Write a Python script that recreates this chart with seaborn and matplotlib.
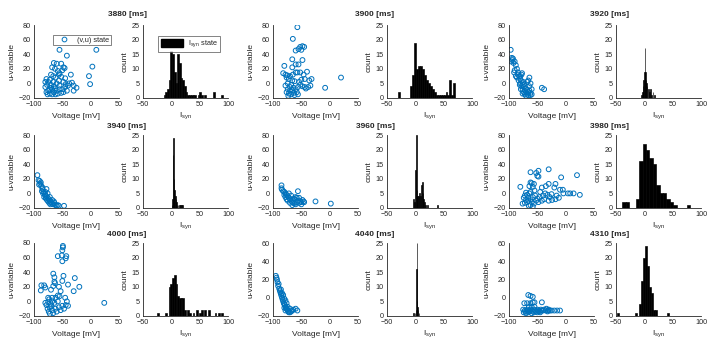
import numpy as np
import pandas as pd
import seaborn as sns
import matplotlib
import matplotlib.pyplot as plt
from matplotlib.patches import Patch
from matplotlib.lines import Line2D

# ---- data: one (v,u) scatter and one I_syn histogram per time point ----
times = [3880, 3900, 3920, 3940, 3960, 3980, 4000, 4040, 4310]

v_3880 = [-55, 10, 3, -42, -48, -46, -65, -60, -52, -63, -58, -50, -55, -35, -70, -66, -52, -62, -45, -3,
          -1, -38, -33, -30, -25, -30, -40, -45, -60, -75, -78, -72, -80, -70, -65, -55, -50, -68, -75, -78,
          -72, -65, -60, -58, -52, -70, -80, -76, -68, -62, -55, -48, -42, -66, -56, -48, -44, -63, -73, -77,
          -68, -56]
u_3880 = [46, 46, 23, 38, 22, 21, 28, 27, 27, 20, 17, 18, 14, 12, 12, 10, 9, 8, 7, 10,
          -1, 0, 1, -3, -6, -10, -3, -5, 0, 2, 6, 5, 2, -2, -4, -3, -8, -8, -10, -12,
          -14, -12, -10, -14, -13, -6, -5, -15, -15, -15, -8, -12, -10, 2, 4, 2, -1, -7, -9, -2,
          22, 12]

v_3900 = [-57, -65, -60, -55, -52, -48, -45, -50, -66, -48, -60, -55, -66, -80, -52, -60, -57, -40, -46, -65,
          -70, -75, -82, -78, 20, -32, -36, -44, -50, -54, -62, -72, -76, -8, -34, -38, -42, -48, -52, -56,
          -60, -64, -68, -70, -74, -76, -72, -68, -64, -58, -62, -70, -66, -73, -56, -44, -78, -74, -66]
u_3900 = [77, 61, 45, 47, 50, 51, 50, 46, 33, 32, 26, 26, 22, 24, 15, 15, 15, 16, 12, 12,
          10, 11, 14, 12, 8, 6, 4, 6, 5, 2, 3, 6, 8, -6, -3, -5, -7, -4, -2, -5,
          -8, -6, -2, -5, -8, -12, -14, -15, -13, -12, -16, -10, -9, -17, -15, -5, -3, 0, 4]

v_3920 = [-97, -95, -93, -96, -92, -88, -86, -90, -91, -84, -82, -86, -80, -83, -78, -80, -76, -78, -74, -76,
          -72, -74, -70, -72, -68, -66, -64, -62, -60, -62, -66, -64, -68, -62, -64, -60, -42, -38, -80, -78,
          -77, -81, -75, -73, -70, -68, -79, -76, -70, -66, -84, -88, -90, -94]
u_3920 = [46, 35, 34, 30, 28, 25, 20, 18, 15, 12, 10, 8, 6, 4, 3, 0, -2, -4, -5, -8,
          -10, -12, -12, -15, -14, -12, -10, -13, -15, -16, 4, 8, 2, 0, -4, -8, -6, -8, 10, 12,
          14, -2, 2, -1, -7, -9, -8, -14, -17, -16, 15, 10, 30, 32]

v_3940 = [-94, -92, -90, -88, -91, -87, -85, -86, -83, -84, -81, -80, -82, -78, -79, -76, -77, -74, -75, -72,
          -73, -70, -71, -68, -66, -64, -62, -60, -58, -56, -47, -78, -80, -76, -72, -68, -65, -89, -85]
u_3940 = [25, 18, 17, 15, 12, 10, 6, 3, 2, 0, -1, -3, -5, -4, -7, -6, -9, -8, -11, -10,
          -13, -12, -15, -14, -15, -13, -16, -17, -16, -17, -17, 6, 2, 0, -5, -9, -11, 13, 8]

v_3960 = [-85, -85, -84, -82, -80, -78, -76, -74, -72, -70, -68, -66, -64, -62, -60, -58, -56, -54, -52, -50,
          -48, -46, -45, -56, -60, -64, -68, -72, -76, -78, -70, -66, -62, -58, -25, 2, -80, -74, -54, -50]
u_3960 = [11, 7, 5, 3, 2, 0, -2, -4, -6, -8, -10, -12, -13, -14, -15, -12, -10, -13, -11, -12,
          -9, -11, -12, 3, -5, -7, -3, 0, -8, -5, -13, -16, -8, -6, -11, -14, -2, -10, -6, -15]

v_3980 = [-62, -48, -30, -52, -50, -48, 20, -8, -18, -30, -62, -60, -56, -64, -58, -80, -42, -20, -10, -5,
          -16, -62, -64, -68, -70, -72, -74, -70, -66, -62, -58, -54, -50, -46, -40, -36, -32, -28, -24, -18,
          -12, -4, 4, 8, 14, 25, -42, -48, -56, -62, -68, -72, -76, -66, -60, -52, -38, -30, -55, -45,
          -35, -25, -65, -58]
u_3980 = [29, 31, 33, 28, 24, 23, 25, 22, 13, 13, 15, 14, 13, 10, 9, 9, 8, 8, 5, 5,
          -3, 2, 0, -2, 1, -3, -6, -9, -10, -8, -5, -3, -7, -5, -3, 0, -2, -5, -9, -8,
          -6, 0, 0, 0, 0, -2, -10, -12, -14, -16, -12, -13, -14, -6, -12, -10, -8, -10, 4, 2,
          10, -1, -17, -18]

v_4000 = [-49, -49, -50, -51, -58, -43, -44, -50, -66, -64, -48, -64, -63, -28, -87, -82, -80, -88, -70, -66,
          -56, -50, -40, -20, -30, -53, -75, -73, -68, -55, -45, -42, -58, -64, -70, -72, -76, -74, -68, -62,
          -56, -50, -44, -60, -66, -72, -78, -80, -68, 24, -47, -53, -40, -75, -58, -62, -70]
u_4000 = [76, 74, 70, 63, 62, 62, 59, 55, 38, 33, 35, 27, 25, 32, 22, 22, 19, 15, 16, 21,
          20, 28, 23, 20, 14, 14, 5, 3, 5, 7, 5, 0, 0, -2, -4, -8, -10, -14, -12, -10,
          -8, -6, -5, -14, -16, -17, -5, -2, 0, -2, -10, -12, -6, -1, 8, 5, -7]

v_4040 = [-95, -94, -93, -92, -90, -91, -89, -88, -87, -86, -85, -84, -83, -82, -81, -80, -79, -78, -77, -76,
          -75, -74, -73, -72, -70, -68, -70, -74, -76, -78, -80, -82, -84, -60, -57, -66, -64, -78, -80, -86]
u_4040 = [24, 22, 20, 17, 15, 13, 10, 8, 6, 4, 2, 0, -2, -4, -6, -7, -8, -10, -11, -12,
          -13, -14, -15, -16, -16, -15, -12, -10, -6, -3, -1, 3, 5, -12, -14, -14, -13, -14, -11, 9]

v_4310 = [-66, -62, -58, -73, -68, -62, -58, -55, -42, -65, -60, -55, -75, -72, -70, -68, -66, -64, -62, -60,
          -58, -56, -54, -52, -50, -48, -46, -44, -42, -40, -38, -35, -32, -30, -28, -25, -20, -15, -10, -74,
          -70, -66, -60, -56, -50, -45, -34, -31]
u_4310 = [3, 2, 1, -6, -6, -6, -5, -5, -5, -10, -10, -10, -13, -14, -15, -13, -14, -15, -13, -14,
          -15, -13, -14, -15, -13, -14, -15, -13, -14, -14, -13, -14, -15, -13, -14, -14, -14, -14, -14, -16,
          -17, -16, -17, -16, -16, -16, -12, -14]

# histogram bins: centres, counts and bin width
c_3880 = [-12, -9, -6, -3, 0, 3, 6, 9, 12, 15, 18, 21, 24, 27, 30, 33, 36, 39, 42, 48, 51, 54, 60, 75, 90]
n_3880 = [1, 2, 3, 6, 16, 15, 9, 5, 15, 12, 7, 6, 4, 2, 1, 1, 1, 1, 1, 1, 2, 1, 1, 2, 1]
c_3900 = [-29, -8, -4.5, -1, 2.5, 6, 9.5, 13, 16.5, 20, 23.5, 27, 30.5, 34, 37.5, 41, 44.5, 48, 51.5, 55, 58.5, 62, 65.5, 69]
n_3900 = [2, 4, 8, 19, 10, 11, 11, 10, 8, 6, 5, 4, 3, 2, 1, 1, 1, 1, 1, 2, 1, 6, 1, 5]
c_3920 = [-5, -3, -2, -1, 0, 1, 2, 3, 4, 5, 7, 9, 11, 13, 15, 18]
n_3920 = [1, 2, 4, 6, 9, 17, 9, 6, 5, 4, 3, 2, 3, 1, 2, 1]
c_3940 = [1, 2, 3, 4, 5, 6, 7, 8, 9, 10, 12, 14, 16, 18, 20]
n_3940 = [1, 3, 18, 24, 10, 6, 4, 3, 2, 1, 1, 1, 1, 1, 1]
c_3960 = [-3, -1.5, 0, 1.5, 3, 4.5, 6, 7.5, 9, 10.5, 12, 13.5, 15, 16.5, 18, 21, 39]
n_3960 = [3, 2, 13, 25, 6, 4, 4, 5, 4, 8, 9, 5, 3, 2, 1, 1, 1]
c_3980 = [-36, -30, -12, -6, 0, 6, 12, 18, 24, 30, 36, 42, 48, 54, 78]
n_3980 = [2, 2, 3, 16, 22, 20, 17, 15, 8, 5, 5, 3, 2, 1, 1]
c_4000 = [-24, -9, -3, 0, 3, 6, 9, 12, 15, 18, 21, 24, 30, 33, 39, 45, 51, 54, 60, 66, 78, 84, 90]
n_4000 = [1, 1, 10, 11, 13, 14, 11, 7, 6, 6, 6, 2, 2, 1, 1, 2, 1, 2, 2, 2, 1, 1, 1]
c_4040 = [-3, -1, 1, 2, 2.5, 3, 4, 5, 6]
n_4040 = [1, 1, 2, 16, 25, 5, 3, 2, 1]
c_4310 = [-47, -16, -8, -4.5, -1, 2.5, 6, 9.5, 13, 16.5, 20, 42]
n_4310 = [1, 1, 4, 12, 20, 24, 17, 10, 8, 2, 2, 1]

bin_w = [3, 3.5, 1, 1, 1.5, 6, 3, 0.5, 3.5]

scatters = [(v_3880, u_3880), (v_3900, u_3900), (v_3920, u_3920),
            (v_3940, u_3940), (v_3960, u_3960), (v_3980, u_3980),
            (v_4000, u_4000), (v_4040, u_4040), (v_4310, u_4310)]
hists = [(c_3880, n_3880), (c_3900, n_3900), (c_3920, n_3920),
         (c_3940, n_3940), (c_3960, n_3960), (c_3980, n_3980),
         (c_4000, n_4000), (c_4040, n_4040), (c_4310, n_4310)]
u_top = [80, 80, 80, 80, 80, 80, 80, 60, 60]


def main():
    sns.set_style('white')
    matplotlib.rcParams['font.family'] = ['Liberation Sans', 'DejaVu Sans']
    matplotlib.rcParams['font.size'] = 6
    matplotlib.rcParams['mathtext.fontset'] = 'custom'
    matplotlib.rcParams['mathtext.rm'] = 'Liberation Sans'
    matplotlib.rcParams['axes.edgecolor'] = '#262626'
    matplotlib.rcParams['axes.linewidth'] = 0.6
    matplotlib.rcParams['xtick.color'] = '#262626'
    matplotlib.rcParams['ytick.color'] = '#262626'
    matplotlib.rcParams['axes.labelcolor'] = '#262626'

    fig = plt.figure(figsize=(7.11, 3.41), dpi=100)

    W, H = 711.0, 341.0
    sc_left = [34, 273, 509]
    hi_left = [143, 387, 616]
    row_bot = [243, 133, 25]
    title_x = [127, 375, 610]
    title_y = [15, 126, 235]
    blue = '#0072BD'

    for k in range(9):
        r, c = divmod(k, 3)
        ax1 = fig.add_axes([sc_left[c] / W, row_bot[r] / H, 85 / W, 73 / H])
        ax2 = fig.add_axes([hi_left[c] / W, row_bot[r] / H, 85 / W, 73 / H])

        v, u = scatters[k]
        sns.scatterplot(x=v, y=u, ax=ax1, marker='o', s=12, facecolor='none',
                        edgecolor=blue, linewidth=0.7, legend=False)
        ax1.set_xlim(-100, 50)
        ax1.set_ylim(-20, u_top[k])
        ax1.set_xticks([-100, -50, 0, 50])
        ax1.set_yticks(np.arange(-20, u_top[k] + 1, 20))
        ax1.set_xlabel('Voltage [mV]', labelpad=3)
        ax1.set_ylabel('u-variable', labelpad=2)

        cen, cnt = hists[k]
        w = bin_w[k]
        df = pd.DataFrame({'c': cen, 'n': cnt})
        sns.histplot(data=df, x='c', weights='n', binwidth=w,
                     binrange=(min(cen) - w / 2, max(cen) + w / 2), ax=ax2,
                     color='black', alpha=1, edgecolor='black', linewidth=0.45)
        ax2.set_xlim(-50, 100)
        ax2.set_ylim(0, 25)
        ax2.set_xticks([-50, 0, 50, 100])
        ax2.set_yticks(range(0, 26, 5))
        ax2.set_xlabel(r'I$_{\mathrm{syn}}$', labelpad=2)
        ax2.set_ylabel('count', labelpad=2)

        for ax in (ax1, ax2):
            sns.despine(ax=ax)
            ax.tick_params(direction='in', length=2, width=0.5, pad=2.5, labelsize=5.2)

        fig.text(title_x[c] / W, 1 - title_y[r] / H, '%d [ms]' % times[k],
                 ha='center', va='center', fontweight='bold', fontsize=6)

        if k == 0:
            h1 = Line2D([], [], marker='o', ls='none', mfc='none', mec=blue, ms=3.4, mew=0.7)
            leg = ax1.legend([h1], ['(v,u) state'], loc='upper right', fontsize=5.3,
                             fancybox=False, edgecolor='#262626', borderpad=0.25,
                             handlelength=2.4, handletextpad=0.6, bbox_to_anchor=(0.95, 0.92))
            leg.get_frame().set_linewidth(0.5)
            h2 = Patch(facecolor='black', edgecolor='black')
            leg2 = ax2.legend([h2], [r'I$_{\mathrm{syn}}$ state'], loc='upper right', fontsize=5.3,
                              fancybox=False, edgecolor='#262626', borderpad=0.35,
                              handlelength=3.0, handleheight=1.4, handletextpad=0.6,
                              bbox_to_anchor=(0.95, 0.9))
            leg2.get_frame().set_linewidth(0.5)

    plt.savefig('out.png', dpi=100)
    plt.close()


if __name__ == "__main__":
    main()
